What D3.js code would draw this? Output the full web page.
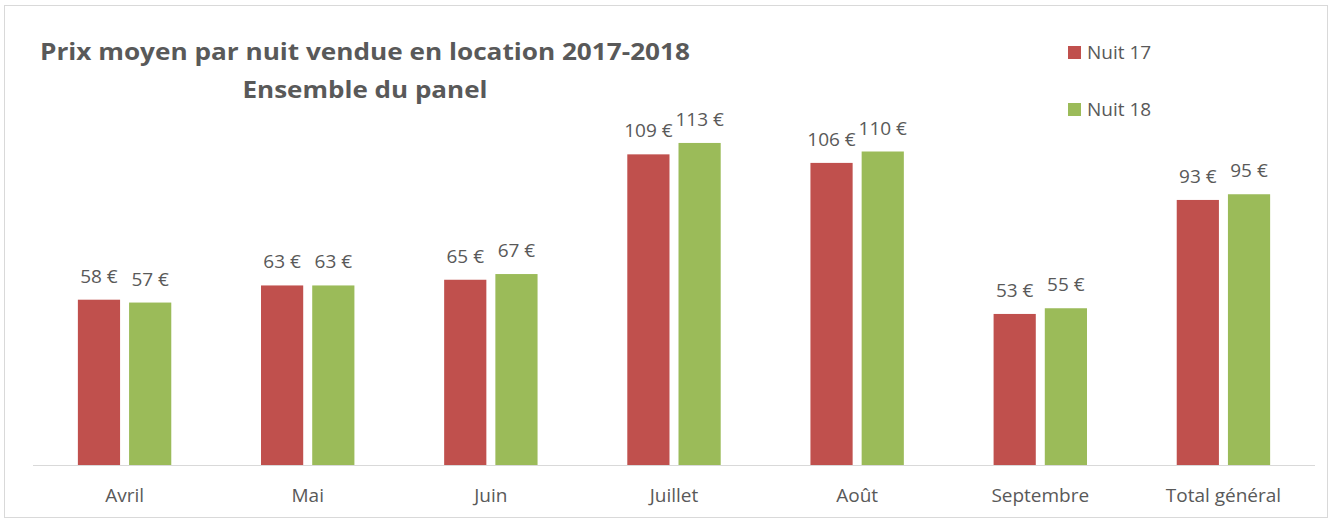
<!DOCTYPE html>
<html>
<head>
<meta charset="utf-8">
<script src="https://cdn.jsdelivr.net/npm/d3@7"></script>
<style>
  body { margin: 0; background: #fff; }
  svg text { font-family: "Open Sans", Lato, sans-serif; fill: #595959; }
</style>
</head>
<body>
<div id="chart"></div>
<script>
const categories = ['Avril', 'Mai', 'Juin', 'Juillet', 'Août', 'Septembre', 'Total général'];
const seriesNames = ['Nuit 17', 'Nuit 18'];
const nuit17 = [58, 63, 65, 109, 106, 53, 93];
const nuit18 = [57, 63, 67, 113, 110, 55, 95];
const titleLines = ['Prix moyen par nuit vendue en location 2017-2018', 'Ensemble du panel'];

const WIDTH = 1332;
const HEIGHT = 520;
const PLOT = { LEFT: 33, RIGHT: 1315, TOP: 123, BOTTOM: 465 };
const COLORS = ['#C0504D', '#9BBB59'];

const rows = categories.map((c, i) => ({ cat: c, values: [nuit17[i], nuit18[i]] }));

const svg = d3.select('#chart')
    .append('svg')
    .attr('width', WIDTH)
    .attr('height', HEIGHT);

// outer frame
svg.append('rect')
    .attr('x', 4.5)
    .attr('y', 5.5)
    .attr('width', 1323)
    .attr('height', 512)
    .attr('fill', '#fff')
    .attr('stroke', '#d9d9d9');

const x0 = d3.scaleBand()
    .domain(categories)
    .range([PLOT.LEFT, PLOT.RIGHT])
    .paddingInner(0.49)
    .paddingOuter(0.245);

const x1 = d3.scaleBand()
    .domain(d3.range(seriesNames.length))
    .range([0, x0.bandwidth()])
    .paddingInner(0.176);

const y = d3.scaleLinear()
    .domain([0, 120])
    .range([PLOT.BOTTOM, PLOT.TOP]);

const groups = svg.append('g')
    .selectAll('g')
    .data(rows)
    .join('g')
    .attr('transform', (d) => `translate(${x0(d.cat)},0)`);

groups.selectAll('rect')
    .data((d) => d.values.map((v, i) => ({ v, i })))
    .join('rect')
    .attr('x', (d) => x1(d.i))
    .attr('y', (d) => y(d.v))
    .attr('width', x1.bandwidth())
    .attr('height', (d) => y(0) - y(d.v))
    .attr('fill', (d) => COLORS[d.i]);

groups.selectAll('text')
    .data((d) => d.values.map((v, i) => ({ v, i })))
    .join('text')
    .attr('x', (d) => x1(d.i) + x1.bandwidth() / 2)
    .attr('y', (d) => y(d.v) - 17)
    .attr('text-anchor', 'middle')
    .attr('font-size', 19)
    .text((d) => `${d.v} €`);

// category axis
const xAxis = svg.append('g')
    .attr('transform', `translate(0,${PLOT.BOTTOM})`)
    .call(d3.axisBottom(x0).tickSize(0).tickPadding(24));
xAxis.select('.domain').attr('stroke', '#d9d9d9').attr('d', `M${PLOT.LEFT},0.5H${PLOT.RIGHT}`);
xAxis.selectAll('text')
    .attr('font-size', 19)
    .attr('font-family', '"Open Sans", sans-serif')
    .attr('fill', '#595959');

// title, stretched to the width of the original
const titleWidths = [650, 245];
svg.append('g')
    .selectAll('text')
    .data(titleLines)
    .join('text')
    .attr('x', 365)
    .attr('y', (d, i) => 60 + i * 38)
    .attr('text-anchor', 'middle')
    .attr('font-size', 23)
    .attr('font-weight', 'bold')
    .attr('textLength', (d, i) => titleWidths[i])
    .attr('lengthAdjust', 'spacingAndGlyphs')
    .text((d) => d);

// legend
const legend = svg.append('g')
    .selectAll('g')
    .data(seriesNames)
    .join('g')
    .attr('transform', (d, i) => `translate(1068,${46 + i * 57})`);
legend.append('rect')
    .attr('width', 13)
    .attr('height', 13)
    .attr('fill', (d, i) => COLORS[i]);
legend.append('text')
    .attr('x', 19)
    .attr('y', 13)
    .attr('font-size', 19)
    .text((d) => d);
</script>
</body>
</html>
